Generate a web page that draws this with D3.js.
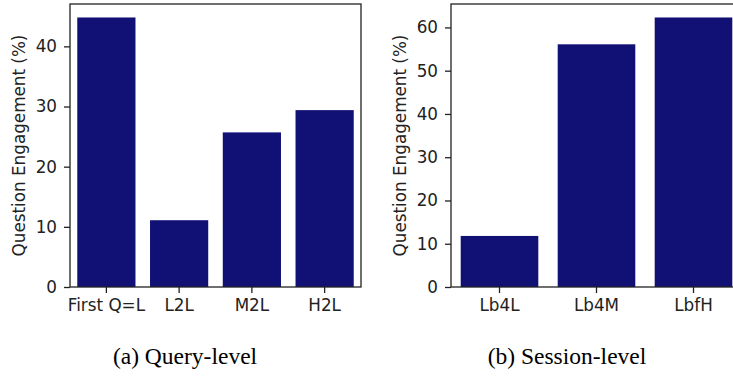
<!DOCTYPE html>
<html><head><meta charset="utf-8">
<script src="https://cdn.jsdelivr.net/npm/d3@7"></script>
<style>body{margin:0;background:#fff}svg{display:block}</style>
</head><body>
<script>
const queryCategories = ["First Q=L", "L2L", "M2L", "H2L"];
const queryValues = [44.8, 11.1, 25.7, 29.4];
const sessionCategories = ["Lb4L", "Lb4M", "LbfH"];
const sessionValues = [11.8, 56.1, 62.3];
const queryTicks = [0, 10, 20, 30, 40];
const sessionTicks = [0, 10, 20, 30, 40, 50, 60];
const yLabel = "Question Engagement (%)";
const captions = ["(a) Query-level", "(b) Session-level"];

const W = 733, H = 377;
const svg = d3.select("body").append("svg").attr("width", W).attr("height", H);
const barColor = "#111175";
const ink = "#222";
const fs = 16.8;

function panel(cats, vals, ticks, x0, x1, labelX, caption, capX) {
  const top = 4, bottom = 287;
  const x = d3.scaleBand().domain(cats).range([x0, x1]).paddingInner(0.2).paddingOuter(0.1);
  const y = d3.scaleLinear().domain([0, d3.max(vals) * 1.05]).range([bottom, top]);
  const g = svg.append("g");
  g.selectAll("rect.bar").data(vals).join("rect")
    .attr("x", (d, i) => x(cats[i])).attr("width", x.bandwidth())
    .attr("y", d => y(d)).attr("height", d => bottom - y(d))
    .attr("fill", barColor);
  g.append("rect").attr("x", x0).attr("y", top).attr("width", x1 - x0).attr("height", bottom - top)
    .attr("fill", "none").attr("stroke", ink).attr("stroke-width", 1.3);
  const ya = g.append("g").attr("transform", `translate(${x0},0)`)
    .call(d3.axisLeft(y).tickValues(ticks).tickSize(6).tickPadding(7));
  const xa = g.append("g").attr("transform", `translate(0,${bottom})`)
    .call(d3.axisBottom(x).tickSize(6).tickPadding(6));
  [ya, xa].forEach(a => {
    a.select(".domain").remove();
    a.selectAll("line").attr("stroke", ink).attr("stroke-width", 1.3);
    a.selectAll("text").attr("fill", ink).attr("font-family", "DejaVu Sans").attr("font-size", fs);
  });
  g.append("text").attr("transform", `translate(${labelX},${(top + bottom) / 2}) rotate(-90)`)
    .attr("text-anchor", "middle").attr("dominant-baseline", "central")
    .attr("font-family", "DejaVu Sans").attr("font-size", fs).attr("fill", ink).text(yLabel);
  svg.append("text").attr("x", capX).attr("y", 364).attr("text-anchor", "middle")
    .attr("font-family", "Liberation Serif").attr("font-size", 23.5).attr("fill", "#000").text(caption);
}

panel(queryCategories, queryValues, queryTicks, 70, 361, 19, captions[0], 185);
panel(sessionCategories, sessionValues, sessionTicks, 451, 742, 400, captions[1], 567);
</script>
</body></html>
